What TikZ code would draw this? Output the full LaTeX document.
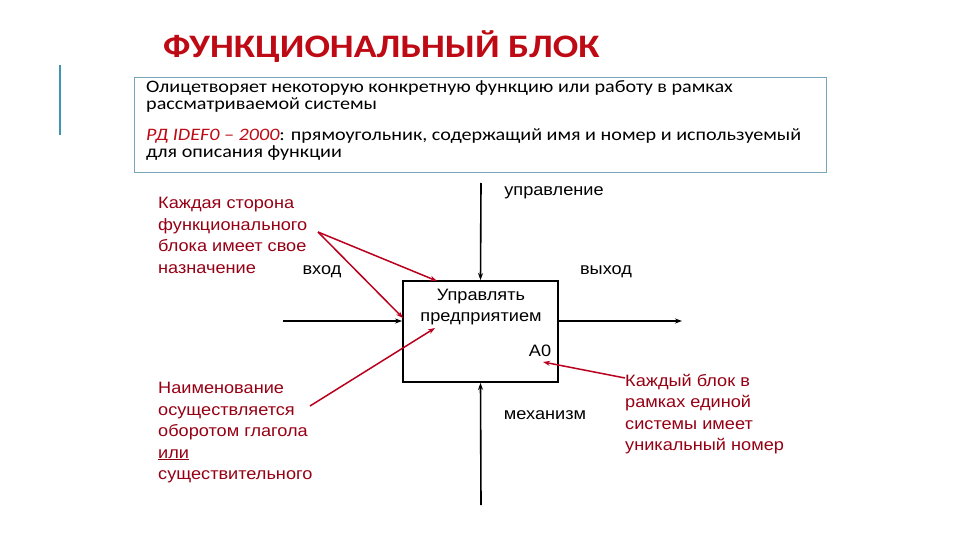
\documentclass[tikz,border=0pt]{standalone}
\usepackage{fontspec}
\setmainfont{Liberation Sans}[FakeStretch=1.1]
\newfontfamily\calfont{Carlito}[FakeStretch=1.15]
\usetikzlibrary{positioning, arrows.meta}
\definecolor{titlered}{RGB}{190, 10, 20}
\definecolor{notered}{RGB}{150, 0, 20}
\definecolor{arrowred}{RGB}{185, 0, 30}
\definecolor{frameblue}{RGB}{120, 165, 185}
\definecolor{barteal}{RGB}{60, 150, 175}
\tikzset{
  title/.style={font=\calfont\bfseries\fontsize{32.8}{36}\selectfont, text=titlered, anchor=west, inner sep=0},
  deftext/.style={font=\calfont\fontsize{17.5}{17}\selectfont, anchor=north west, align=left, inner sep=0},
  note/.style={font=\fontsize{16.5}{21.5}\selectfont, text=notered, anchor=north west, align=left, inner sep=0},
  lbl/.style={font=\fontsize{16.5}{20}\selectfont, inner sep=0},
  funcbox/.style={draw, line width=1.8pt, minimum width=155pt, minimum height=101pt, inner sep=0},
  signal/.style={-{Stealth[length=7pt, width=5pt]}, line width=1.6pt, black},
  pointer/.style={-{Stealth[length=7pt, width=5pt]}, line width=1.5pt, arrowred}
}

\begin{document}
\begin{tikzpicture}[x=1pt, y=-1pt]
\useasboundingbox (0,0) rectangle (960,540);

% Title and side bar
\node[title] (ttl) at (163, 47) {ФУНКЦИОНАЛЬНЫЙ БЛОК};
\draw[barteal, line width=2.5pt] (60, 65) -- (60, 135);

% Definition frame
\node[draw=frameblue, line width=0.8pt, minimum width=692pt, minimum height=95pt, inner sep=0] (defbox) at (480, 124.5) {};
\node[deftext] (defa) at (146, 80.5) {Олицетворяет некоторую конкретную функцию или работу в рамках\\рассматриваемой системы};
\node[deftext] (defb) at (146, 128.5) {\textcolor{titlered}{\itshape РД IDEF0 – 2000}: прямоугольник, содержащий имя и номер и используемый\\для описания функции};

% Functional block
\node[funcbox] (blk) at (480.5, 331.5) {};
\node[lbl, align=center, font=\fontsize{16.5}{21}\selectfont] (fname) at (481, 307) {Управлять\\предприятием};
\node[lbl] (num) at (540, 351) {A0};

% ICOM arrows
\coordinate (ctrl) at (481, 183);
\coordinate (inp) at (283, 321);
\coordinate (outp) at (682, 321);
\coordinate (mech) at (481, 505);
\draw[signal] (ctrl) -- (blk.north);
\draw[signal] (inp) -- (blk.west |- inp);
\draw[signal] (blk.east |- outp) -- (outp);
\draw[signal] (mech) -- (blk.south);

\node[lbl] (lctrl) at (554, 193) {управление};
\node[lbl] (linp) at (322, 272) {вход};
\node[lbl] (loutp) at (606, 272) {выход};
\node[lbl] (lmech) at (545, 415) {механизм};

% Notes
\node[note] (sides) at (158, 197) {Каждая сторона\\функционального\\блока имеет свое\\назначение};
\node[note] (naming) at (158, 382) {Наименование\\осуществляется\\оборотом глагола\\\underline{или}\\существительного};
\node[note] (numbering) at (625, 374) {Каждый блок в\\рамках единой\\системы имеет\\уникальный номер};

% Note pointers
\coordinate (sidesp) at (318, 232);
\coordinate (namingp) at (310, 406);
\coordinate (numberingp) at (625, 378);
\draw[pointer] (sidesp) -- (437, 281);
\draw[pointer] (sidesp) -- (403, 318);
\draw[pointer] (namingp) -- (435, 328);
\draw[pointer] (numberingp) -- (543, 362);

\end{tikzpicture}
\end{document}
